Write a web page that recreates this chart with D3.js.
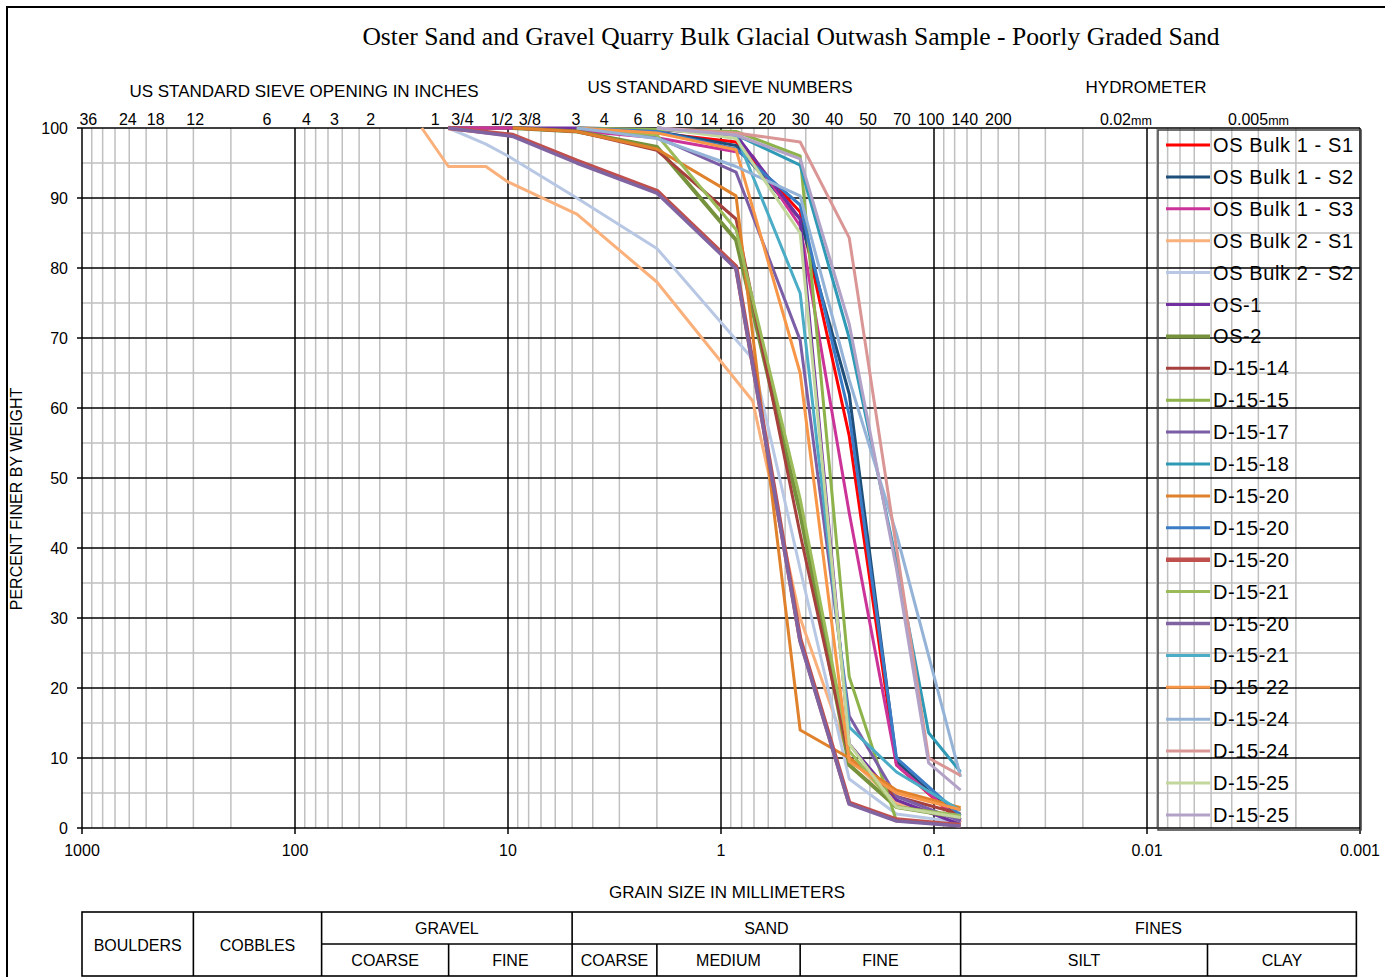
<!DOCTYPE html>
<html>
<head>
<meta charset="utf-8">
<script src="https://cdn.jsdelivr.net/npm/d3@7"></script>
<style>
  body { margin: 0; background: #fff; }
  svg { display: block; font-family: "Liberation Sans", Arial, sans-serif; }
  .grid-minor { stroke: #c0c0c0; stroke-width: 1.5; }
  .grid-major { stroke: #000; stroke-width: 1.5; }
  .lbl { font-size: 16px; fill: #000; }
  .hdr { font-size: 17px; fill: #000; }
  .leg { font-size: 20px; letter-spacing: 0.6px; fill: #000; }
  .tbl line, .tbl rect { stroke: #000; stroke-width: 1.6; fill: none; }
</style>
</head>
<body>
<svg id="chart" width="1385" height="977"></svg>
<script>
// top axis labels (sieve sizes in mm)
const inchLabels = ['36', '24', '18', '12', '6', '4', '3', '2', '1', '3/4', '1/2', '3/8'];
const inchSizes = [914.4, 609.6, 457.2, 304.8, 152.4, 101.6, 76.2, 50.8, 25.4, 19.05, 12.7, 9.525];
const sieveLabels = ['3', '4', '6', '8', '10', '14', '16', '20', '30', '40', '50', '70', '100', '140', '200'];
const sieveSizes = [6.35, 4.75, 3.35, 2.36, 2.0, 1.4, 1.18, 0.85, 0.6, 0.425, 0.3, 0.212, 0.15, 0.106, 0.075];
const hydroLabels = ['0.02', '0.005'];
const hydroSizes = [0.02, 0.005];
const xTickLabels = ['1000', '100', '10', '1', '0.1', '0.01', '0.001'];
const yTickValues = [0, 10, 20, 30, 40, 50, 60, 70, 80, 90, 100];

// series: [grain size mm, percent finer]
const osBulk1S1 = [[19.05, 100], [9.5, 100], [4.75, 99.8], [2.0, 99.3], [0.85, 98], [0.425, 88], [0.25, 56], [0.15, 9], [0.075, 0.8]];
const osBulk1S2 = [[19.05, 100], [9.5, 100], [4.75, 99.8], [2.0, 99.5], [0.85, 97.5], [0.425, 87], [0.25, 62], [0.15, 9.5], [0.075, 1.2]];
const osBulk1S3 = [[19.05, 100], [9.5, 100], [4.75, 99.6], [2.0, 98.6], [0.85, 96.6], [0.71, 96], [0.425, 86], [0.25, 45], [0.15, 9], [0.075, 1]];
const osBulk2S1 = [[25.4, 100], [19.05, 94.5], [12.7, 94.5], [10, 92.3], [4.75, 87.7], [2.0, 78], [0.71, 61], [0.425, 30], [0.25, 10], [0.15, 3.5], [0.075, 1.5]];
const osBulk2S2 = [[19.05, 100], [12.7, 97.7], [10, 96], [4.75, 90], [2.0, 82.8], [0.71, 67], [0.425, 37], [0.25, 7], [0.15, 2], [0.075, 0.8]];
const os1 = [[9.5, 100], [4.75, 100], [2.0, 99.8], [0.85, 99], [0.425, 87], [0.25, 12], [0.15, 4], [0.075, 0.5]];
const os2 = [[9.5, 100], [4.75, 99.5], [2.0, 97.3], [0.85, 84], [0.425, 45], [0.25, 9], [0.15, 3], [0.075, 1.5]];
const d1514 = [[9.5, 100], [4.75, 99.5], [2.0, 96.8], [0.85, 87], [0.425, 42], [0.25, 10], [0.15, 4.5], [0.075, 2]];
const d1515 = [[4.75, 100], [2.0, 99.8], [0.85, 99.5], [0.425, 96], [0.25, 21.6], [0.15, 1], [0.075, 0.5]];
const d1517 = [[4.75, 100], [2.0, 98.7], [0.85, 93.7], [0.425, 69.7], [0.25, 16], [0.15, 4.5], [0.075, 1]];
const d1518 = [[2.0, 100], [0.85, 99], [0.425, 94.7], [0.25, 70], [0.15, 38], [0.106, 13.6], [0.075, 8]];
const d1520a = [[9.5, 100], [4.75, 99.5], [2.0, 97], [0.85, 90.3], [0.425, 14], [0.25, 10], [0.15, 5.4], [0.075, 2.9]];
const d1520b = [[4.75, 100], [2.0, 99.5], [0.85, 97], [0.425, 89], [0.25, 59], [0.15, 10], [0.075, 1.8]];
const d1520c = [[19.05, 100], [9.5, 99], [4.75, 95.3], [2.0, 91], [0.85, 80.2], [0.425, 27], [0.25, 3.6], [0.15, 1.2], [0.075, 0.4]];
const d1521a = [[4.75, 100], [2.0, 99], [0.85, 85.5], [0.425, 47], [0.25, 11], [0.15, 3], [0.075, 1.8]];
const d1520d = [[19.05, 100], [9.5, 98.8], [4.75, 95], [2.0, 90.7], [0.85, 79.9], [0.425, 26.6], [0.25, 3.4], [0.15, 1], [0.075, 0.3]];
const d1521b = [[2.0, 100], [0.85, 99], [0.425, 76.4], [0.25, 14.4], [0.15, 8], [0.075, 2.5]];
const d1522 = [[4.75, 100], [2.0, 99.3], [0.85, 96.9], [0.425, 65], [0.25, 9.5], [0.15, 5], [0.075, 2.6]];
const d1524a = [[4.75, 100], [2.0, 98.5], [0.85, 94.5], [0.425, 90.3], [0.25, 64], [0.15, 42], [0.075, 7.3]];
const d1524b = [[2.0, 100], [0.85, 99.3], [0.425, 98], [0.25, 84.3], [0.15, 40], [0.106, 10], [0.075, 7.5]];
const d1525a = [[2.0, 100], [0.85, 98.5], [0.425, 85], [0.25, 12], [0.15, 3], [0.075, 1.5]];
const d1525b = [[2.0, 100], [0.85, 99], [0.425, 95.6], [0.25, 72], [0.15, 37], [0.106, 9.3], [0.075, 5.4]];

const seriesNames = ['OS Bulk 1 - S1', 'OS Bulk 1 - S2', 'OS Bulk 1 - S3', 'OS Bulk 2 - S1', 'OS Bulk 2 - S2',
  'OS-1', 'OS-2', 'D-15-14', 'D-15-15', 'D-15-17', 'D-15-18', 'D-15-20', 'D-15-20', 'D-15-20',
  'D-15-21', 'D-15-20', 'D-15-21', 'D-15-22', 'D-15-24', 'D-15-24', 'D-15-25', 'D-15-25'];
const seriesData = [osBulk1S1, osBulk1S2, osBulk1S3, osBulk2S1, osBulk2S2, os1, os2, d1514, d1515, d1517, d1518,
  d1520a, d1520b, d1520c, d1521a, d1520d, d1521b, d1522, d1524a, d1524b, d1525a, d1525b];
const seriesColors = ['#ff0000', '#1f4e79', '#cc3399', '#fab07a', '#b8c8e4', '#7030a0', '#76923c', '#a6403d',
  '#8db34a', '#7b5ea6', '#2f9ab6', '#e0812c', '#3b7cc6', '#c0504d', '#9bbb59', '#8064a2', '#4bacc6',
  '#f79646', '#95b3d7', '#d99694', '#c3d69b', '#b3a2c7'];
const seriesWidths = [3, 3, 3, 3, 3, 3, 4, 3, 3, 3, 3, 3, 3, 4.5, 3, 3.5, 3, 3, 3, 3, 3, 3];

const svg = d3.select('#chart');
const plot = {left: 82, right: 1360, top: 128, bottom: 828};

const x = d3.scaleLog().domain([1000, 0.001]).range([plot.left, plot.right]);
const y = d3.scaleLinear().domain([0, 100]).range([plot.bottom, plot.top]);

// outer frame
svg.append('rect').attr('x', 7).attr('y', 7).attr('width', 1400).attr('height', 1000)
  .attr('fill', 'none').attr('stroke', '#000').attr('stroke-width', 2);

// title
svg.append('text').attr('x', 791).attr('y', 45).attr('text-anchor', 'middle')
  .style('font-family', '"Liberation Serif", "Times New Roman", serif').style('font-size', '25.6px')
  .text('Oster Sand and Gravel Quarry Bulk Glacial Outwash Sample - Poorly Graded Sand');

// grid
const grid = svg.append('g');
const isDecade = v => Math.abs(Math.log10(v) - Math.round(Math.log10(v))) < 1e-9;
const vTicks = x.ticks();
grid.selectAll('.vmin').data(vTicks.filter(v => !isDecade(v))).enter().append('line')
  .attr('class', 'grid-minor').attr('x1', d => x(d)).attr('x2', d => x(d)).attr('y1', plot.top).attr('y2', plot.bottom);
grid.selectAll('.hmin').data(d3.range(5, 100, 10)).enter().append('line')
  .attr('class', 'grid-minor').attr('x1', plot.left).attr('x2', plot.right).attr('y1', d => y(d)).attr('y2', d => y(d));
grid.selectAll('.hmaj').data(yTickValues).enter().append('line')
  .attr('class', 'grid-major').attr('x1', plot.left - 5).attr('x2', plot.right).attr('y1', d => y(d)).attr('y2', d => y(d));
grid.selectAll('.vmaj').data(vTicks.filter(isDecade)).enter().append('line')
  .attr('class', 'grid-major').attr('x1', d => x(d)).attr('x2', d => x(d)).attr('y1', plot.top).attr('y2', plot.bottom + 6);

// y axis labels
svg.selectAll('.ylab').data(yTickValues).enter().append('text')
  .attr('class', 'lbl').attr('x', 68).attr('y', d => y(d) + 5.5).attr('text-anchor', 'end')
  .text(d => d);
svg.append('text').attr('class', 'lbl').attr('transform', 'translate(22,499) rotate(-90)')
  .attr('text-anchor', 'middle').text('PERCENT FINER BY WEIGHT');

// bottom axis labels
svg.selectAll('.xlab').data(xTickLabels).enter().append('text')
  .attr('class', 'lbl').attr('x', d => x(+d)).attr('y', 856).attr('text-anchor', 'middle').text(d => d);
svg.append('text').attr('class', 'hdr').attr('x', 727).attr('y', 898).attr('text-anchor', 'middle')
  .text('GRAIN SIZE IN MILLIMETERS');

// top axis: labels sit right of the sieve line, drifting further right on finer sizes;
// a few crowded ones are pulled back as in the original sheet
const labelShift = mm => 7 + 10.8 * Math.log10(914.4 / mm);
const crowded = {'1': -6, '2': -3, '8': -11, '14': -9};
const topLabels = inchLabels.map((t, i) => [t, inchSizes[i]]).concat(sieveLabels.map((t, i) => [t, sieveSizes[i]]));
svg.selectAll('.tlab').data(topLabels).enter().append('text')
  .attr('class', 'lbl').attr('x', d => x(d[1]) + labelShift(d[1]) + (crowded[d[0]] || 0)).attr('y', 125)
  .attr('text-anchor', 'end').text(d => d[0]);
const hyd = svg.selectAll('.hlab').data(hydroLabels).enter().append('text')
  .attr('class', 'lbl').attr('x', (d, i) => x(hydroSizes[i]) + 17).attr('y', 125);
hyd.append('tspan').text(d => d);
hyd.append('tspan').style('font-size', '12.5px').text('mm');

svg.append('text').attr('class', 'hdr').attr('x', 304).attr('y', 97).attr('text-anchor', 'middle')
  .text('US STANDARD SIEVE OPENING IN INCHES');
svg.append('text').attr('class', 'hdr').attr('x', 720).attr('y', 93).attr('text-anchor', 'middle')
  .text('US STANDARD SIEVE NUMBERS');
svg.append('text').attr('class', 'hdr').attr('x', 1146).attr('y', 93).attr('text-anchor', 'middle')
  .text('HYDROMETER');

// curves
const line = d3.line().x(d => x(d[0])).y(d => y(d[1]));
svg.append('g').selectAll('path').data(seriesData).enter().append('path')
  .attr('d', line).attr('fill', 'none')
  .attr('stroke', (d, i) => seriesColors[i]).attr('stroke-width', (d, i) => seriesWidths[i])
  .attr('stroke-linejoin', 'round');

// legend
const leg = svg.append('g').attr('transform', 'translate(1158,130)');
leg.append('rect').attr('width', 203).attr('height', 700).attr('fill', 'none')
  .attr('stroke', '#404040').attr('stroke-width', 1.5);
const rows = leg.selectAll('.row').data(seriesNames).enter().append('g')
  .attr('transform', (d, i) => `translate(0,${15 + i * 31.9})`);
rows.append('line').attr('x1', 8).attr('x2', 52).attr('y1', 0).attr('y2', 0)
  .attr('stroke', (d, i) => seriesColors[i]).attr('stroke-width', (d, i) => seriesWidths[i]);
rows.append('text').attr('class', 'leg').attr('x', 55).attr('y', 7).text(d => d);

// soil classification table, boundaries at the grain sizes
const tb = svg.append('g').attr('class', 'tbl');
const tTop = 912, tMid = 944, tBot = 976;
const tRight = 0.00104;
tb.append('rect').attr('x', x(1000)).attr('y', tTop).attr('width', x(tRight) - x(1000)).attr('height', tBot - tTop);
const fullCuts = [300, 75, 5.0, 0.075];
const halfCuts = [19, 2.0, 0.425, 0.0052];
tb.selectAll('.fc').data(fullCuts).enter().append('line')
  .attr('x1', d => x(d)).attr('x2', d => x(d)).attr('y1', tTop).attr('y2', tBot);
tb.selectAll('.hc').data(halfCuts).enter().append('line')
  .attr('x1', d => x(d)).attr('x2', d => x(d)).attr('y1', tMid).attr('y2', tBot);
tb.append('line').attr('x1', x(75)).attr('x2', x(tRight)).attr('y1', tMid).attr('y2', tMid);

const tblText = [
  ['BOULDERS', 1000, 300, 951], ['COBBLES', 300, 75, 951],
  ['GRAVEL', 75, 5.0, 934], ['SAND', 5.0, 0.075, 934], ['FINES', 0.075, tRight, 934],
  ['COARSE', 75, 19, 966], ['FINE', 19, 5.0, 966], ['COARSE', 5.0, 2.0, 966], ['MEDIUM', 2.0, 0.425, 966],
  ['FINE', 0.425, 0.075, 966], ['SILT', 0.075, 0.0052, 966], ['CLAY', 0.0052, tRight, 966]
];
svg.selectAll('.tt').data(tblText).enter().append('text')
  .attr('class', 'lbl').attr('x', d => (x(d[1]) + x(d[2])) / 2).attr('y', d => d[3])
  .attr('text-anchor', 'middle').text(d => d[0]);
</script>
</body>
</html>
